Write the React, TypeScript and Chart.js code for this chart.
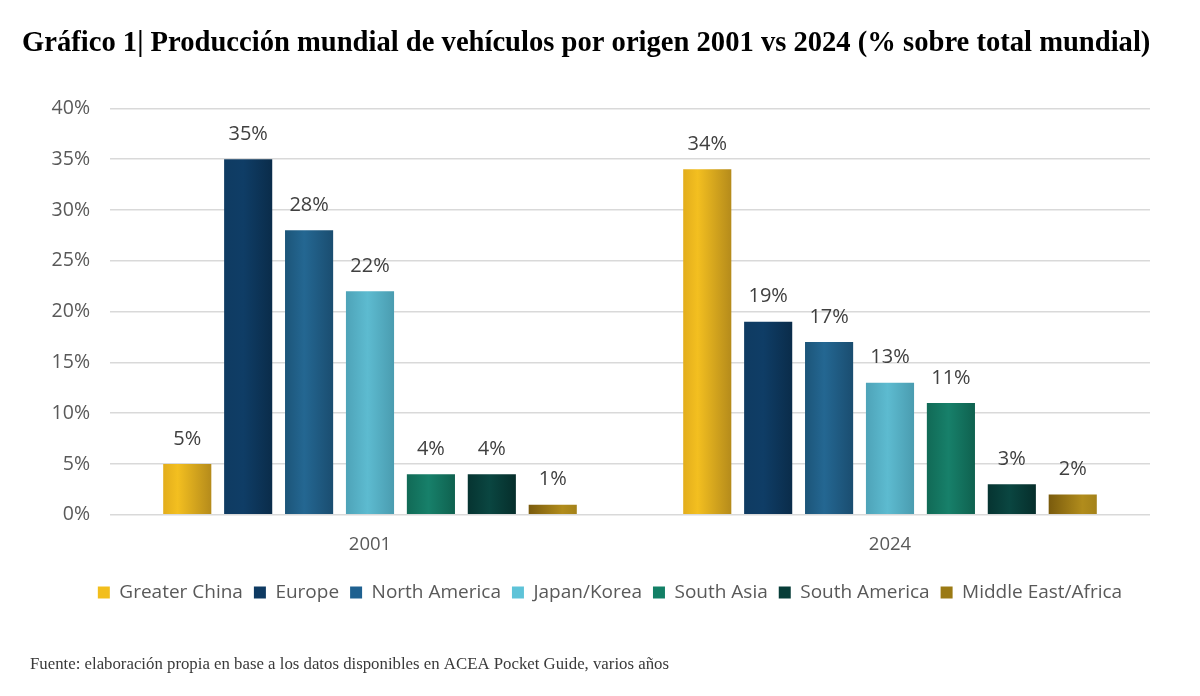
import React, { useEffect, useRef } from "react";
import { Chart, registerables } from "chart.js";

Chart.register(...registerables);

const categories = ["2001", "2024"];
const seriesNames = [
  "Greater China",
  "Europe",
  "North America",
  "Japan/Korea",
  "South Asia",
  "South America",
  "Middle East/Africa",
];
const greaterChina = [5, 34];
const europe = [35, 19];
const northAmerica = [28, 17];
const japanKorea = [22, 13];
const southAsia = [4, 11];
const southAmerica = [4, 3];
const middleEastAfrica = [1, 2];
const yTicks = [0, 5, 10, 15, 20, 25, 30, 35, 40];

const solidColors = ["#F2BE1C", "#0E3A62", "#1F6190", "#5EC3D8", "#138066", "#073D38", "#9B7A14"];
const gradientStops: [number, string][][] = [
  [[0, "#E2AD1C"], [0.3, "#F3BF20"], [1, "#B58B1B"]],
  [[0, "#0F3B62"], [0.4, "#0F3D66"], [1, "#0A2C4A"]],
  [[0, "#1C5579"], [0.4, "#246792"], [1, "#1A4D70"]],
  [[0, "#4EA3B8"], [0.45, "#5DBBD0"], [1, "#4A9CB0"]],
  [[0, "#116A56"], [0.45, "#17806A"], [1, "#0F614F"]],
  [[0, "#063431"], [0.45, "#0A4641"], [1, "#062E2B"]],
  [[0, "#7A5B0D"], [0.7, "#B18C1C"], [1, "#A4821A"]],
];

const TITLE = "Gráfico 1| Producción mundial de vehículos por origen 2001 vs 2024 (% sobre total mundial)";
const FOOTNOTE = "Fuente: elaboración propia en base a los datos disponibles en ACEA Pocket Guide, varios años";

const gradientPlugin = {
  id: "barGradient",
  beforeDatasetsDraw(chart: any) {
    const ctx = chart.ctx;
    chart.data.datasets.forEach((ds: any, di: number) => {
      const meta = chart.getDatasetMeta(di);
      meta.data.forEach((el: any) => {
        const x0 = el.x - el.width / 2;
        const x1 = el.x + el.width / 2;
        const g = ctx.createLinearGradient(x0, 0, x1, 0);
        gradientStops[di].forEach(([o, c]) => g.addColorStop(o, c));
        el.options = Object.assign({}, el.options, { backgroundColor: g });
      });
    });
  },
};

const labelPlugin = {
  id: "valueLabels",
  afterDatasetsDraw(chart: any) {
    const ctx = chart.ctx;
    ctx.save();
    ctx.font = "20px 'Open Sans'";
    ctx.fillStyle = "#404040";
    ctx.textAlign = "center";
    ctx.textBaseline = "middle";
    chart.data.datasets.forEach((ds: any, di: number) => {
      const meta = chart.getDatasetMeta(di);
      meta.data.forEach((el: any, i: number) => {
        ctx.fillText(ds.data[i] + "%", el.x, el.y - 25);
      });
    });
    ctx.restore();
  },
};

const footnotePlugin = {
  id: "footnote",
  afterDraw(chart: any) {
    const ctx = chart.ctx;
    ctx.save();
    ctx.font = "16.8px 'Liberation Serif'";
    ctx.fillStyle = "#3A3A3A";
    ctx.textAlign = "left";
    ctx.textBaseline = "middle";
    ctx.fillText(FOOTNOTE, 30, 665);
    ctx.restore();
  },
};

export default function App() {
  const ref = useRef<HTMLCanvasElement>(null);
  useEffect(() => {
    document.body.style.margin = "0";
    const seriesData = [greaterChina, europe, northAmerica, japanKorea, southAsia, southAmerica, middleEastAfrica];
    const chart = new Chart(ref.current!, {
      type: "bar",
      data: {
        labels: categories,
        datasets: seriesNames.map((name, i) => ({
          label: name,
          data: seriesData[i],
          backgroundColor: solidColors[i],
          borderWidth: 0,
          categoryPercentage: 0.82,
          barPercentage: 0.79,
        })),
      },
      plugins: [gradientPlugin, labelPlugin, footnotePlugin],
      options: {
        animation: false,
        responsive: false,
        maintainAspectRatio: false,
        layout: { padding: { left: 22, right: 2, top: 0, bottom: 84 } },
        plugins: {
          title: {
            display: true,
            text: TITLE,
            align: "start",
            color: "#000000",
            font: { family: "'Liberation Serif'", size: 28.6, weight: "bold" },
            padding: { top: 26, bottom: 48 },
          },
          legend: {
            position: "bottom",
            labels: {
              boxWidth: 12,
              boxHeight: 12,
              padding: 11,
              color: "#595959",
              font: { family: "'Open Sans'", size: 19 },
            },
          },
          tooltip: { enabled: false },
        },
        scales: {
          x: {
            grid: { display: false },
            border: { display: false },
            ticks: { color: "#595959", font: { family: "'Open Sans'", size: 18.5 }, padding: 11 },
            afterFit: (axis: any) => {
              axis.height = axis.height + 5;
            },
          },
          y: {
            min: 0,
            max: 40,
            afterBuildTicks: (axis: any) => {
              axis.ticks = yTicks.map((v) => ({ value: v }));
            },
            afterFit: (axis: any) => {
              axis.width = 88;
            },
            grid: { color: "#D9D9D9", lineWidth: 1.5, drawTicks: false },
            border: { display: false },
            ticks: {
              color: "#595959",
              font: { family: "'Open Sans'", size: 19.5 },
              padding: 20,
              callback: (v: any) => v + "%",
            },
          },
          yRightSpacer: {
            position: "right",
            display: true,
            min: 0,
            max: 40,
            grid: { display: false, drawOnChartArea: false },
            border: { display: false },
            ticks: { display: false },
            afterFit: (axis: any) => {
              axis.width = 48;
            },
          },
        },
      },
    });
    return () => chart.destroy();
  }, []);
  return <canvas ref={ref} width={1200} height={696} style={{ display: "block" }} />;
}
